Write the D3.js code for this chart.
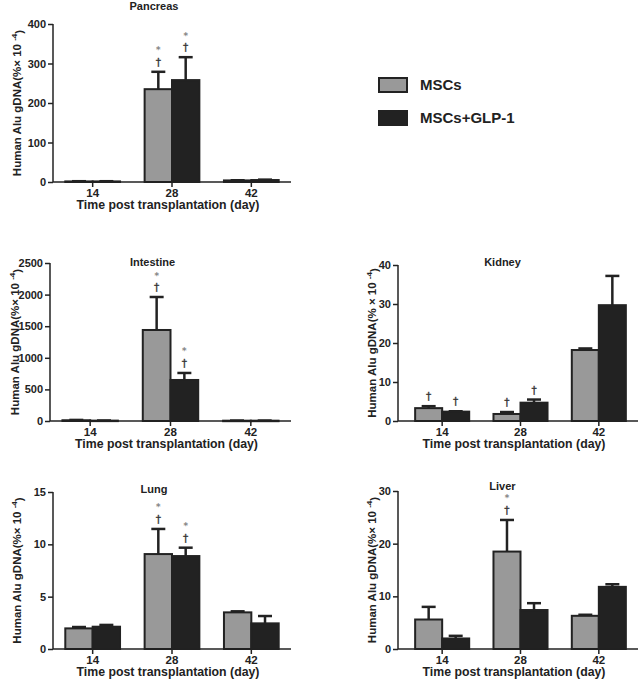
<!DOCTYPE html>
<html><head><meta charset="utf-8">
<script src="https://cdn.jsdelivr.net/npm/d3@7"></script>
<style>body{margin:0;background:#fff;} text{font-family:"Liberation Sans",Arial,sans-serif;font-weight:bold;fill:#222;}</style>
</head><body>
<svg id="c" width="641" height="686"></svg>
<script>
const days = ["14", "28", "42"];
const seriesNames = ["MSCs", "MSCs+GLP-1"];

const pancreasMSC = [1.5, 235, 4];
const pancreasMSCErr = [0.5, 44, 0.5];
const pancreasGLP = [1.5, 258, 5];
const pancreasGLPErr = [0.5, 58, 1];
const pancreasMarks = [["", ""], ["*†", "*†"], ["", ""]];
const pancreasTicks = [0, 100, 200, 300, 400];

const intestineMSC = [12, 1440, 5];
const intestineMSCErr = [5, 522, 2];
const intestineGLP = [6, 649, 5];
const intestineGLPErr = [2, 111, 2];
const intestineMarks = [["", ""], ["*†", "*†"], ["", ""]];
const intestineTicks = [0, 500, 1000, 1500, 2000, 2500];

const kidneyMSC = [3.3, 1.8, 18.2];
const kidneyMSCErr = [0.5, 0.5, 0.4];
const kidneyGLP = [2.4, 4.7, 29.7];
const kidneyGLPErr = [0.1, 0.8, 7.5];
const kidneyMarks = [["†", "†"], ["†", "†"], ["", ""]];
const kidneyTicks = [0, 10, 20, 30, 40];

const lungMSC = [1.97, 9.07, 3.5];
const lungMSCErr = [0.13, 2.4, 0.1];
const lungGLP = [2.13, 8.88, 2.45];
const lungGLPErr = [0.17, 0.8, 0.7];
const lungMarks = [["", ""], ["*†", "*†"], ["", ""]];
const lungTicks = [0, 5, 10, 15];

const liverMSC = [5.6, 18.5, 6.3];
const liverMSCErr = [2.4, 6.0, 0.2];
const liverGLP = [2.0, 7.4, 11.8];
const liverGLPErr = [0.5, 1.3, 0.5];
const liverMarks = [["", ""], ["*†", ""], ["", ""]];
const liverTicks = [0, 10, 20, 30];

const svg = d3.select("#c");
const ink = "#222";
const fills = ["#999999", "#222222"];

const panels = [
  {title: "Pancreas", msc: pancreasMSC, mscErr: pancreasMSCErr, glp: pancreasGLP, glpErr: pancreasGLPErr, marks: pancreasMarks, ticks: pancreasTicks,
   ax: 53, axEnd: 291, top: 24, bottom: 182, titleY: 6, ylabX: 17, ylab: "Human Alu gDNA(%× 10 "},
  {title: "Intestine", msc: intestineMSC, mscErr: intestineMSCErr, glp: intestineGLP, glpErr: intestineGLPErr, marks: intestineMarks, ticks: intestineTicks,
   ax: 50, axEnd: 291, top: 263, bottom: 421, titleY: 262, ylabX: 15, ylab: "Human Alu gDNA(%× 10 "},
  {title: "Kidney", msc: kidneyMSC, mscErr: kidneyMSCErr, glp: kidneyGLP, glpErr: kidneyGLPErr, marks: kidneyMarks, ticks: kidneyTicks,
   ax: 398, axEnd: 638, top: 265, bottom: 421, titleY: 262, ylabX: 372, ylab: "Human Alu gDNA(% × 10 "},
  {title: "Lung", msc: lungMSC, mscErr: lungMSCErr, glp: lungGLP, glpErr: lungGLPErr, marks: lungMarks, ticks: lungTicks,
   ax: 53, axEnd: 291, top: 492, bottom: 649, titleY: 489, ylabX: 17, ylab: "Human Alu gDNA(%× 10 "},
  {title: "Liver", msc: liverMSC, mscErr: liverMSCErr, glp: liverGLP, glpErr: liverGLPErr, marks: liverMarks, ticks: liverTicks,
   ax: 398, axEnd: 638, top: 491, bottom: 649, titleY: 486, ylabX: 372, ylab: "Human Alu gDNA(%× 10 "}
];

panels.forEach(p => {
  const g = svg.append("g");
  const left = p.ax + (p.ax > 300 ? 5 : 0);
  const x = d3.scaleBand().domain(days).range([left, p.axEnd]).paddingInner(0.31).paddingOuter(0.155);
  const xs = d3.scaleBand().domain([0, 1]).range([0, x.bandwidth()]);
  const y = d3.scaleLinear().domain([0, p.ticks[p.ticks.length - 1]]).range([p.bottom, p.top]);

  days.forEach((d, i) => {
    const vals = [p.msc[i], p.glp[i]];
    const errs = [p.mscErr[i], p.glpErr[i]];
    vals.forEach((v, s) => {
      const bx = x(d) + xs(s);
      const bw = xs.bandwidth();
      const cx = bx + bw / 2;
      const et = y(v + errs[s]);
      g.append("line").attr("x1", cx).attr("x2", cx).attr("y1", y(v)).attr("y2", et)
        .attr("stroke", ink).attr("stroke-width", 2.5);
      g.append("line").attr("x1", cx - 7).attr("x2", cx + 7).attr("y1", et).attr("y2", et)
        .attr("stroke", ink).attr("stroke-width", 2.5);
      g.append("rect").attr("x", bx).attr("y", y(v)).attr("width", bw).attr("height", Math.max(0.5, p.bottom - y(v)))
        .attr("fill", fills[s]).attr("stroke", ink).attr("stroke-width", 2);
      const m = p.marks[i][s];
      if (m.includes("*")) {
        g.append("text").attr("text-anchor", "middle").attr("x", cx).attr("y", et - 18.5)
          .style("font-family", "DejaVu Sans, sans-serif").style("font-weight", "normal").style("font-size", "9px")
          .style("fill", "#777").style("stroke", "#777").style("stroke-width", "0.2px").text("*");
      }
      if (m.includes("†")) {
        g.append("text").attr("text-anchor", "middle").attr("x", cx).attr("y", et - 6)
          .style("font-family", "DejaVu Sans, sans-serif").style("font-weight", "normal").style("font-size", "10.5px")
          .style("fill", "#333").style("stroke", "#333").style("stroke-width", "0.3px").text("†");
      }
    });
  });

  const ya = g.append("g").attr("transform", `translate(${p.ax},0)`)
    .call(d3.axisLeft(y).tickValues(p.ticks).tickSize(5).tickPadding(2).tickFormat(d3.format("d")));
  ya.select(".domain").attr("stroke", ink).attr("stroke-width", 1.5).attr("d", `M0,${p.top}V${p.bottom}`);
  ya.selectAll(".tick line").attr("stroke", ink).attr("stroke-width", 1.5);
  ya.selectAll(".tick text").style("font-size", "11px").style("font-family", "Liberation Sans, Arial").style("font-weight", "bold").attr("fill", ink);

  const xa = g.append("g").attr("transform", `translate(0,${p.bottom})`)
    .call(d3.axisBottom(x).tickSize(5).tickPadding(2));
  xa.select(".domain").attr("stroke", ink).attr("stroke-width", 1.5).attr("d", `M${p.ax},0H${p.axEnd}`);
  xa.selectAll(".tick line").attr("stroke", ink).attr("stroke-width", 1.5);
  xa.selectAll(".tick text").style("font-size", "11.5px").style("font-family", "Liberation Sans, Arial").style("font-weight", "bold").attr("fill", ink);

  g.append("text").attr("x", (p.ax + p.axEnd) / 2 - 4).attr("y", p.bottom + 27)
    .attr("text-anchor", "middle").style("font-size", "12.3px").text("Time post transplantation (day)");

  g.append("text").attr("x", (left + p.axEnd) / 2 - 18).attr("y", p.titleY + 4)
    .attr("text-anchor", "middle").style("font-size", "11px").text(p.title);

  const yl = g.append("text").attr("transform", `translate(${p.ylabX},${(p.top + p.bottom) / 2}) rotate(-90)`)
    .attr("text-anchor", "middle").attr("dy", "0.35em").style("font-size", "11.5px");
  yl.append("tspan").text(p.ylab);
  yl.append("tspan").attr("dy", "-0.5em").style("font-size", "8px").text("-4");
  yl.append("tspan").attr("dy", "0.5em").text(")");
});

const legend = svg.append("g");
seriesNames.forEach((n, i) => {
  const ly = 78 + i * 33;
  legend.append("rect").attr("x", 379).attr("y", ly).attr("width", 28).attr("height", 14)
    .attr("fill", fills[i]).attr("stroke", ink).attr("stroke-width", 2);
  legend.append("text").attr("x", 420).attr("y", ly + 7).attr("dy", "0.35em")
    .style("font-size", "15px").text(n);
});
</script>
</body></html>
